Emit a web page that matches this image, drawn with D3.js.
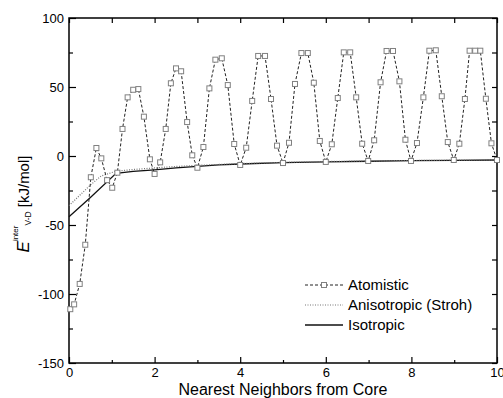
<!DOCTYPE html>
<html>
<head>
<meta charset="utf-8">
<script src="https://cdn.jsdelivr.net/npm/d3@7"></script>
<style>
  body { margin: 0; background: #fff; }
  text { font-family: "Liberation Sans", Arial, sans-serif; }
</style>
</head>
<body>
<script>
// Atomistic points (neighbor distance, energy in kJ/mol)
const atomX = [0.03, 0.12, 0.25, 0.38, 0.51, 0.64, 0.755, 0.89, 1.01, 1.13, 1.25, 1.37, 1.50, 1.62, 1.75, 1.89,
               2.0, 2.13, 2.26, 2.38, 2.5, 2.62, 2.76, 2.88, 3.0, 3.14, 3.28, 3.42, 3.57, 3.71, 3.86,
               4.0, 4.14, 4.28, 4.42, 4.58, 4.72, 4.86, 5.0, 5.14, 5.28, 5.43, 5.58, 5.72, 5.86,
               6.0, 6.14, 6.28, 6.42, 6.57, 6.71, 6.85, 6.99, 7.13, 7.28, 7.42, 7.57, 7.72, 7.86,
               7.99, 8.13, 8.28, 8.42, 8.57, 8.71, 8.85, 8.99, 9.12, 9.25, 9.36, 9.49, 9.61, 9.74, 9.87, 10.0];
const atomY = [-111, -107.5, -92.7, -64.3, -15.4, 5.8, -1.7, -17.5, -23, -12.1, 19.6, 42.5, 48, 48.5, 28.5, -2.4,
               -13, -4.6, 19.6, 52.7, 63.5, 61.4, 24.6, 0.5, -8.5, 6.5, 49, 69.8, 70.8, 51.4, 8.7,
               -6.5, 6, 39.9, 72.5, 72.5, 41.3, 7.5, -5.1, 9.6, 52.2, 74.6, 74.6, 53.1, 10.9,
               -4.3, 8.5, 42, 75.1, 75.1, 42.5, 8.9, -3.6, 11.4, 53.4, 76.1, 76.1, 54.1, 11.8,
               -3.6, 9.4, 42.5, 76.3, 76.6, 43.3, 10.1, -2.9, 8.9, 41.3, 76.3, 76.3, 76.3, 41.5, 9.2, -2.9];

// Continuum curves
const isoX = [0, 0.5, 1.1, 1.5, 2, 2.5, 3, 3.5, 4, 5, 6, 7, 8, 9, 10];
const isoY = [-44, -30, -12.6, -11.2, -10, -8.6, -7.5, -6.5, -5.8, -4.8, -4.2, -3.8, -3.4, -3.1, -2.9];
const anisoX = [0, 0.5, 0.75, 1.1, 1.5, 2, 2.5, 3, 3.5, 4, 5, 6, 7, 8, 9, 10];
const anisoY = [-36, -21, -14.5, -11, -9.8, -8.6, -7.6, -6.8, -6.1, -5.5, -4.6, -4.0, -3.6, -3.3, -3.0, -2.8];

const xMajor = [0, 2, 4, 6, 8, 10];
const xMinor = [1, 3, 5, 7, 9];
const yMajor = [-150, -100, -50, 0, 50, 100];
const yMinor = [-125, -75, -25, 25, 75];
const legendNames = ["Atomistic", "Anisotropic (Stroh)", "Isotropic"];

const margin = {top: 18, right: 6, bottom: 35, left: 69},
      width  = 503 - margin.left - margin.right,
      height = 398 - margin.top - margin.bottom;

const svg = d3.select("body")
    .append("svg")
    .attr("width", 503)
    .attr("height", 398);

const chart = svg.append("g")
    .attr("transform", "translate(" + margin.left + "," + margin.top + ")");

const xScale = d3.scaleLinear().domain([0, 10]).range([0, width]);
const yScale = d3.scaleLinear().domain([-150, 100]).range([height, 0]);

// plain hyphen for negatives, like the original figure
const fmt = function(d){ return String(d); };

function styleAxis(g){
    g.select(".domain").remove();
    g.selectAll("line").attr("stroke", "#000").attr("stroke-width", 1.2);
    g.selectAll("text").attr("font-size", "13px").attr("fill", "#000")
        .attr("font-family", "Liberation Sans, Arial, sans-serif");
}

// bottom axis: major + minor ticks pointing inward
chart.append("g")
    .attr("transform", "translate(0," + height + ")")
    .call(d3.axisBottom(xScale).tickValues(xMajor).tickSizeInner(-6).tickSizeOuter(0).tickPadding(5).tickFormat(fmt))
    .call(styleAxis);
chart.append("g")
    .attr("transform", "translate(0," + height + ")")
    .call(d3.axisBottom(xScale).tickValues(xMinor).tickSizeInner(-3).tickSizeOuter(0).tickFormat(""))
    .call(styleAxis);

// left axis
chart.append("g")
    .call(d3.axisLeft(yScale).tickValues(yMajor).tickSizeInner(-7).tickSizeOuter(0).tickPadding(5).tickFormat(fmt))
    .call(styleAxis);
chart.append("g")
    .call(d3.axisLeft(yScale).tickValues(yMinor).tickSizeInner(-4).tickSizeOuter(0).tickFormat(""))
    .call(styleAxis);

// top and right axes, ticks only
chart.append("g")
    .call(d3.axisTop(xScale).tickValues(xMajor.concat(xMinor)).tickSizeInner(-5).tickSizeOuter(0).tickFormat(""))
    .call(styleAxis);
chart.append("g")
    .attr("transform", "translate(" + width + ",0)")
    .call(d3.axisRight(yScale).tickValues(yMajor.concat(yMinor)).tickSizeInner(-5).tickSizeOuter(0).tickFormat(""))
    .call(styleAxis);

// frame
chart.append("rect")
    .attr("width", width)
    .attr("height", height)
    .attr("fill", "none")
    .attr("stroke", "#000")
    .attr("stroke-width", 1.5);

const line = d3.line()
    .x(function(d){ return xScale(d[0]); })
    .y(function(d){ return yScale(d[1]); });

const atomData = d3.zip(atomX, atomY);
const isoData = d3.zip(isoX, isoY);
const anisoData = d3.zip(anisoX, anisoY);

chart.append("path")
    .datum(isoData)
    .attr("d", line)
    .attr("fill", "none")
    .attr("stroke", "#111")
    .attr("stroke-width", 1.3);

chart.append("path")
    .datum(anisoData)
    .attr("d", line)
    .attr("fill", "none")
    .attr("stroke", "#777")
    .attr("stroke-width", 1.2)
    .attr("stroke-dasharray", "1,1.5");

chart.append("path")
    .datum(atomData)
    .attr("d", line)
    .attr("fill", "none")
    .attr("stroke", "#222")
    .attr("stroke-width", 1)
    .attr("stroke-dasharray", "3,2");

chart.selectAll(".pt")
    .data(atomData)
    .enter()
    .append("rect")
    .attr("class", "pt")
    .attr("x", function(d){ return xScale(d[0]) - 2.5; })
    .attr("y", function(d){ return yScale(d[1]) - 2.5; })
    .attr("width", 5)
    .attr("height", 5)
    .attr("fill", "#fff")
    .attr("stroke", "#808080")
    .attr("stroke-width", 1);

// legend
const legend = svg.append("g").attr("transform", "translate(305,285)");
const styles = [
    {stroke: "#222", dash: "3,2", w: 1},
    {stroke: "#777", dash: "1,1.5", w: 1.2},
    {stroke: "#111", dash: null, w: 1.3}
];
legendNames.forEach(function(name, i){
    const row = legend.append("g").attr("transform", "translate(0," + (i * 20) + ")");
    row.append("line")
        .attr("x1", 0).attr("x2", 38)
        .attr("stroke", styles[i].stroke)
        .attr("stroke-width", styles[i].w)
        .attr("stroke-dasharray", styles[i].dash);
    if(i === 0){
        row.append("rect")
            .attr("x", 19 - 2.5).attr("y", -2.5)
            .attr("width", 5).attr("height", 5)
            .attr("fill", "#fff").attr("stroke", "#808080");
    }
    row.append("text")
        .attr("x", 43)
        .attr("y", 5)
        .attr("font-size", "15px")
        .text(name);
});

// x title
svg.append("text")
    .attr("x", margin.left + width / 2)
    .attr("y", 395)
    .attr("text-anchor", "middle")
    .attr("font-size", "16px")
    .text("Nearest Neighbors from Core");

// y title
const ytitle = svg.append("text")
    .attr("transform", "translate(29,204) rotate(-90)")
    .attr("text-anchor", "middle");
ytitle.append("tspan").attr("font-size", "17px").attr("font-style", "italic").text("E");
ytitle.append("tspan").attr("font-size", "8px").attr("dy", -11).text("inter");
ytitle.append("tspan").attr("font-size", "8.5px").attr("dy", 13).text("V-D");
ytitle.append("tspan").attr("font-size", "15px").attr("dy", -2).text(" [kJ/mol]");
</script>
</body>
</html>
